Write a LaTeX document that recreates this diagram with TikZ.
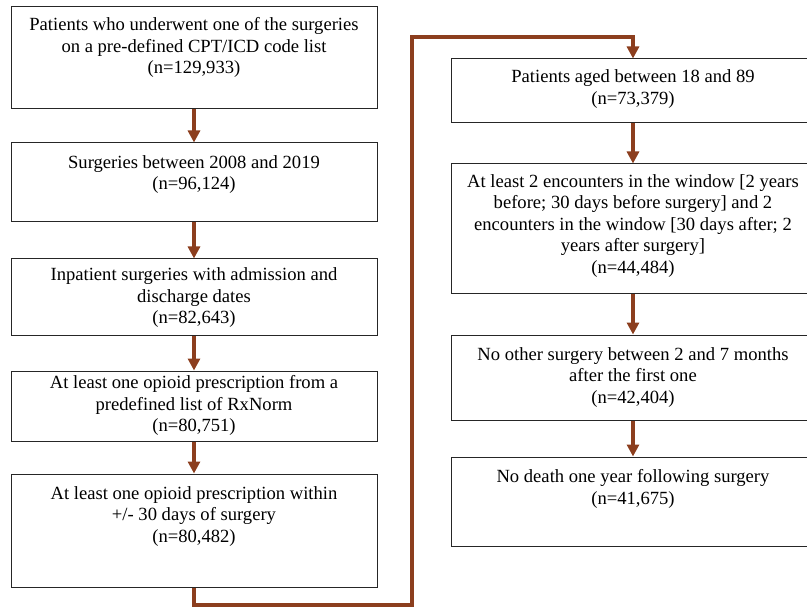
\documentclass[tikz,border=0pt]{standalone}
\usepackage{fontspec}
\setmainfont{Liberation Serif}
\usetikzlibrary{positioning,arrows.meta}

\definecolor{linkbrown}{RGB}{140,62,30}

\tikzset{
  box/.style={draw=black!85, line width=1pt, minimum width=366pt, inner sep=0pt},
  rbox/.style={box, minimum width=364pt},
  boxtext/.style={align=center, inner sep=0pt, font=\fontsize{18.6}{21.5}\selectfont},
  link/.style={draw=linkbrown, line width=3.6pt, line join=miter,
    -{Triangle[width=12pt,length=12pt]}}
}

\begin{document}
\begin{tikzpicture}[x=1pt,y=-1pt]
  \useasboundingbox (0,0) rectangle (807,607);

  % left column
  \node[box, minimum height=102pt] (patients) at (194,58) {};
  \node[boxtext, below=11pt of patients.north] (patientsT)
    {Patients who underwent one of the surgeries\\on a pre-defined CPT/ICD code list\\(n=129,933)};

  \node[box, minimum height=79pt] (years) at (194,182.5) {};
  \node[boxtext, below=12.5pt of years.north] (yearsT)
    {Surgeries between 2008 and 2019\\(n=96,124)};

  \node[box, minimum height=76pt] (inpatient) at (194,297) {};
  \node[boxtext, below=9pt of inpatient.north] (inpatientT)
    {Inpatient surgeries with admission and\\discharge dates\\(n=82,643)};

  \node[box, minimum height=70pt] (rxnorm) at (194,406) {};
  \node[boxtext, below=5pt of rxnorm.north] (rxnormT)
    {At least one opioid prescription from a\\predefined list of RxNorm\\(n=80,751)};

  \node[box, minimum height=113pt] (window) at (194,530.5) {};
  \node[boxtext, below=12.5pt of window.north] (windowT)
    {At least one opioid prescription within\\+/- 30 days of surgery\\(n=80,482)};

  % right column
  \node[rbox, minimum height=64pt] (aged) at (633,91) {};
  \node[boxtext, below=11pt of aged.north] (agedT)
    {Patients aged between 18 and 89\\(n=73,379)};

  \node[rbox, minimum height=130pt] (encounters) at (633,229) {};
  \node[boxtext, below=10.5pt of encounters.north] (encountersT)
    {At least 2 encounters in the window [2 years\\before; 30 days before surgery] and 2\\encounters in the window [30 days after; 2\\years after surgery]\\(n=44,484)};

  \node[rbox, minimum height=85pt] (other) at (633,377.5) {};
  \node[boxtext, below=12.5pt of other.north] (otherT)
    {No other surgery between 2 and 7 months\\after the first one\\(n=42,404)};

  \node[rbox, minimum height=89pt] (death) at (633,501.5) {};
  \node[boxtext, below=13pt of death.north] (deathT)
    {No death one year following surgery\\(n=41,675)};

  % connectors
  \draw[link] (patients.south) -- (years.north);
  \draw[link] (years.south) -- (inpatient.north);
  \draw[link] (inpatient.south) -- (rxnorm.north);
  \draw[link] (rxnorm.south) -- (window.north);

  \coordinate (turnB) at (412,605);
  \coordinate (turnT) at (412,37);
  \draw[link] (window.south) |- (turnB) -- (turnT) -| (aged.north);

  \draw[link] (aged.south) -- (encounters.north);
  \draw[link] (encounters.south) -- (other.north);
  \draw[link] (other.south) -- (death.north);
\end{tikzpicture}
\end{document}
